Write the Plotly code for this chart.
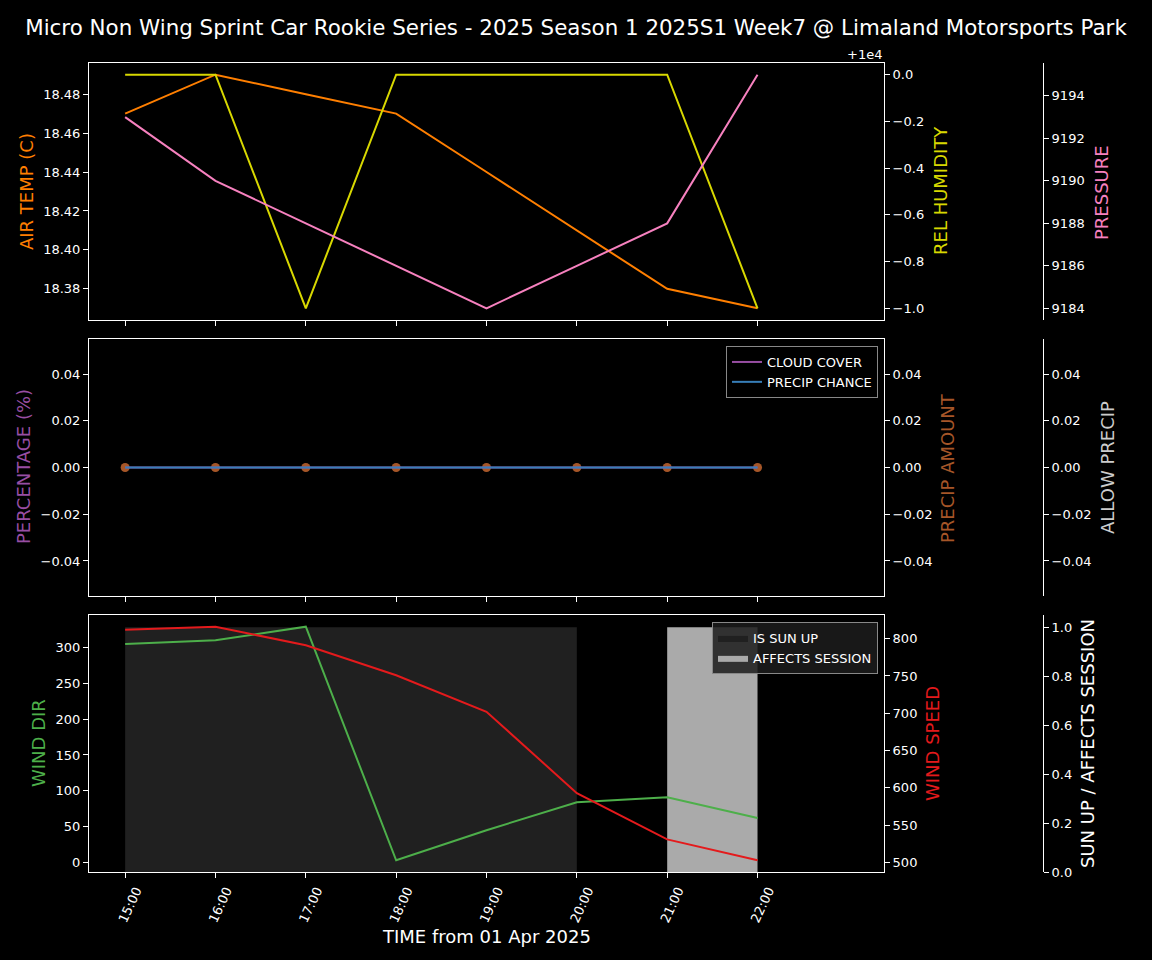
import plotly.graph_objects as go

# ---------------- data ----------------
times = ["2025-04-01 15:00", "2025-04-01 16:00", "2025-04-01 17:00", "2025-04-01 18:00",
         "2025-04-01 19:00", "2025-04-01 20:00", "2025-04-01 21:00", "2025-04-01 22:00"]
time_labels = ["15:00", "16:00", "17:00", "18:00", "19:00", "20:00", "21:00", "22:00"]

air_temp = [18.47, 18.49, 18.48, 18.47, 18.44, 18.41, 18.38, 18.37]
rel_humidity = [10000, 10000, 9999, 10000, 10000, 10000, 10000, 9999]
pressure = [9193, 9190, 9188, 9186, 9184, 9186, 9188, 9195]

cloud_cover = [0, 0, 0, 0, 0, 0, 0, 0]
precip_chance = [0, 0, 0, 0, 0, 0, 0, 0]
precip_amount = [0, 0, 0, 0, 0, 0, 0, 0]
allow_precip = [0, 0, 0, 0, 0, 0, 0, 0]

wind_dir = [305, 310, 329, 3, 45, 84, 91, 62]
wind_speed = [812, 816, 791, 751, 702, 593, 531, 503]

sun_up = [1, 1, 1, 1, 1, 1, 0, 0]
affects_session = [0, 0, 0, 0, 0, 0, 1, 1]

TITLE = "Micro Non Wing Sprint Car Rookie Series - 2025 Season 1 2025S1 Week7 @ Limaland Motorsports Park"

# ---------------- helpers ----------------
W, H = 1152, 960
FONT = "DejaVu Sans"


def px_x(p):
    return p / W


def px_y(p):
    return 1 - p / H


def mpl_range(vals):
    lo, hi = min(vals), max(vals)
    if hi == lo:
        lo, hi = lo - 0.05, hi + 0.05
    pad = 0.05 * (hi - lo)
    return [lo - pad, hi + pad]


def runs(flags):
    """contiguous runs where flag is set -> list of (start_idx, end_idx, value)"""
    out = []
    i = 0
    n = len(flags)
    while i < n:
        if flags[i]:
            j = i
            while j + 1 < n and flags[j + 1]:
                j += 1
            out.append((i, j, flags[i]))
            i = j + 1
        else:
            i += 1
    return out


X_DOM = [px_x(89), px_x(884)]
FREE_POS = px_x(1043)
ROW_DOMS = [[px_y(320), px_y(63)], [px_y(596), px_y(339)], [px_y(872), px_y(615)]]

ORANGE = "#ff7f00"
YELLOW = "#d8d800"
PINK = "#f781bf"
PURPLE = "#984ea3"
BLUE = "#377eb8"
BROWN = "#a65628"
GREEN = "#4daf4a"
RED = "#e41a1c"

fig = go.Figure()

# ---- row 1 ----
fig.add_trace(go.Scatter(x=times, y=air_temp, mode="lines", line=dict(color=ORANGE, width=2),
                         xaxis="x", yaxis="y", showlegend=False))
fig.add_trace(go.Scatter(x=times, y=rel_humidity, mode="lines", line=dict(color=YELLOW, width=2),
                         xaxis="x", yaxis="y2", showlegend=False))
fig.add_trace(go.Scatter(x=times, y=pressure, mode="lines", line=dict(color=PINK, width=2),
                         xaxis="x", yaxis="y3", showlegend=False))

# ---- row 2 ----
fig.add_trace(go.Scatter(x=times, y=precip_amount, mode="markers", marker=dict(color=BROWN, size=9),
                         xaxis="x2", yaxis="y4", showlegend=False))
fig.add_trace(go.Scatter(x=times, y=allow_precip, mode="lines", line=dict(color="rgba(0,0,0,0)", width=1),
                         xaxis="x2", yaxis="y6", showlegend=False, hoverinfo="skip"))
fig.add_trace(go.Scatter(x=times, y=cloud_cover, mode="lines", line=dict(color=PURPLE, width=2),
                         name="CLOUD COVER", xaxis="x2", yaxis="y5", legend="legend"))
fig.add_trace(go.Scatter(x=times, y=precip_chance, mode="lines", line=dict(color=BLUE, width=2),
                         name="PRECIP CHANCE", xaxis="x2", yaxis="y5", legend="legend"))

# ---- row 3 ----
for k, (s, e, v) in enumerate(runs(sun_up)):
    fig.add_trace(go.Scatter(x=[times[s], times[s], times[e], times[e], times[s]],
                             y=[0, v, v, 0, 0], mode="lines", fill="toself",
                             fillcolor="#202020", line=dict(width=0, color="#202020"),
                             name="IS SUN UP", showlegend=(k == 0), legend="legend2",
                             xaxis="x3", yaxis="y7"))
for k, (s, e, v) in enumerate(runs(affects_session)):
    fig.add_trace(go.Scatter(x=[times[s], times[s], times[e], times[e], times[s]],
                             y=[0, v, v, 0, 0], mode="lines", fill="toself",
                             fillcolor="#aaaaaa", line=dict(width=0, color="#aaaaaa"),
                             name="AFFECTS SESSION", showlegend=(k == 0), legend="legend2",
                             xaxis="x3", yaxis="y7"))
fig.add_trace(go.Scatter(x=times, y=wind_dir, mode="lines", line=dict(color=GREEN, width=2),
                         xaxis="x3", yaxis="y8", showlegend=False))
fig.add_trace(go.Scatter(x=times, y=wind_speed, mode="lines", line=dict(color=RED, width=2),
                         xaxis="x3", yaxis="y9", showlegend=False))

# ---------------- axes ----------------
tickfont = dict(family=FONT, size=13, color="white")
common = dict(showgrid=False, zeroline=False, showline=True, linecolor="white", linewidth=1,
              ticks="outside", ticklen=5, tickwidth=1, tickcolor="white", tickfont=tickfont,
              automargin=False)

x_range = ["2025-04-01 14:36", "2025-04-01 23:24"]
xcommon = dict(common, domain=X_DOM, range=x_range, type="date", tickvals=times, ticktext=time_labels,
               mirror=True)

hum_ticks = [9999.0, 9999.2, 9999.4, 9999.6, 9999.8, 10000.0]
hum_text = ["\u22121.0", "\u22120.8", "\u22120.6", "\u22120.4", "\u22120.2", "0.0"]

layout = dict(
    width=W, height=H,
    paper_bgcolor="black", plot_bgcolor="black",
    margin=dict(l=0, r=0, t=0, b=0, autoexpand=False),
    font=dict(family=FONT, color="white", size=13),
    title=dict(text=TITLE, x=0.5, xanchor="center", y=px_y(28), yanchor="middle",
               font=dict(family=FONT, size=21.4, color="white")),
    xaxis=dict(xcommon, anchor="y", showticklabels=False),
    xaxis2=dict(xcommon, anchor="y4", matches="x", showticklabels=False),
    xaxis3=dict(xcommon, anchor="y7", matches="x", showticklabels=True, tickangle=-65,
                ticklabelshift=11),
    # row 1
    yaxis=dict(common, domain=ROW_DOMS[0], anchor="x", side="left", range=mpl_range(air_temp),
               dtick=0.02, tick0=18.36, tickformat=".2f"),
    yaxis2=dict(common, overlaying="y", anchor="x", side="right", range=mpl_range(rel_humidity),
                tickvals=hum_ticks, ticktext=hum_text),
    yaxis3=dict(common, overlaying="y", anchor="free", position=FREE_POS, side="right",
                range=mpl_range(pressure), dtick=2, tick0=9184),
    # row 2
    yaxis4=dict(common, domain=ROW_DOMS[1], anchor="x2", side="right", range=mpl_range(precip_amount),
                dtick=0.02, tick0=0, tickformat=".2f"),
    yaxis5=dict(common, overlaying="y4", anchor="x2", side="left", range=mpl_range(cloud_cover),
                dtick=0.02, tick0=0, tickformat=".2f"),
    yaxis6=dict(common, overlaying="y4", anchor="free", position=FREE_POS, side="right",
                range=mpl_range(allow_precip), dtick=0.02, tick0=0, tickformat=".2f"),
    # row 3
    yaxis7=dict(common, domain=ROW_DOMS[2], anchor="free", position=FREE_POS, side="right",
                range=[0, 1.05], dtick=0.2, tick0=0, tickformat=".1f"),
    yaxis8=dict(common, overlaying="y7", anchor="x3", side="left", range=mpl_range(wind_dir),
                dtick=50, tick0=0),
    yaxis9=dict(common, overlaying="y7", anchor="x3", side="right", range=mpl_range(wind_speed),
                dtick=50, tick0=500),
    legend=dict(x=px_x(878), xanchor="right", y=px_y(346), yanchor="top",
                bgcolor="rgba(0,0,0,0.8)", bordercolor="#888888", borderwidth=1,
                font=dict(family=FONT, size=13, color="white")),
    legend2=dict(x=px_x(878), xanchor="right", y=px_y(622), yanchor="top",
                 bgcolor="rgba(28,28,28,0.85)", bordercolor="#888888", borderwidth=1,
                 font=dict(family=FONT, size=13, color="white")),
)
fig.update_layout(layout)

# ---------------- axis titles as annotations ----------------
labels = [
    ("AIR TEMP (C)", 27, 192, ORANGE),
    ("REL HUMIDITY", 940, 191, YELLOW),
    ("PRESSURE", 1101, 193, PINK),
    ("PERCENTAGE (%)", 23, 467, PURPLE),
    ("PRECIP AMOUNT", 947, 468, BROWN),
    ("ALLOW PRECIP", 1107, 468, "#cccccc"),
    ("WIND DIR", 38, 743, GREEN),
    ("WIND SPEED", 932, 744, RED),
    ("SUN UP / AFFECTS SESSION", 1087, 744, "white"),
]
for text, xp, yp, col in labels:
    fig.add_annotation(text=text, x=px_x(xp), y=px_y(yp), xref="paper", yref="paper",
                       xanchor="center", yanchor="middle", textangle=-90, showarrow=False,
                       font=dict(family=FONT, size=18, color=col))

fig.add_annotation(text="TIME from 01 Apr 2025", x=px_x(486), y=px_y(936), xref="paper", yref="paper",
                   xanchor="center", yanchor="middle", showarrow=False,
                   font=dict(family=FONT, size=18, color="white"))
fig.add_annotation(text="+1e4", x=px_x(884), y=px_y(55), xref="paper", yref="paper",
                   xanchor="right", yanchor="middle", showarrow=False,
                   font=dict(family=FONT, size=13, color="white"))

post = (
    "document.documentElement.style.margin='0';"
    "document.documentElement.style.background='black';"
    "document.body.style.margin='0';"
    "document.body.style.overflow='hidden';"
    "document.body.style.background='black';"
    "var gd=document.getElementById('{plot_id}');"
    "gd.style.position='fixed';gd.style.left='0px';gd.style.top='0px';"
)
fig.write_html("out.html", config={"displayModeBar": False}, post_script=post)
